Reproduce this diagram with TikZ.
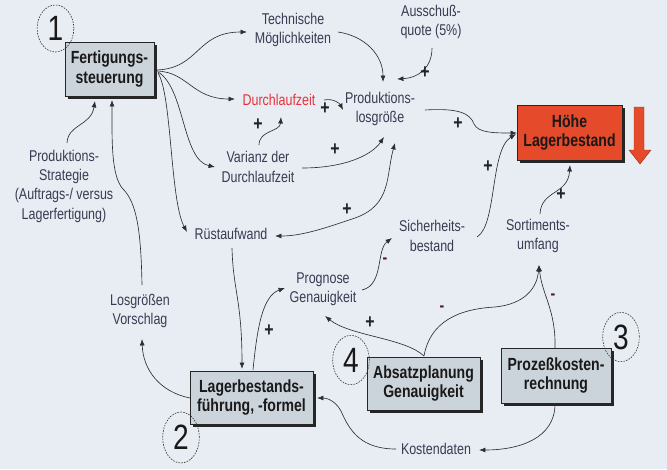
\documentclass[tikz,border=0pt]{standalone}
\usepackage{fontspec}
\setmainfont{Liberation Sans}[FakeStretch=0.8]
\usetikzlibrary{arrows.meta,shapes.geometric,shadows}
\definecolor{bgcol}{RGB}{232,237,243}
\definecolor{boxfill}{RGB}{204,212,219}
\definecolor{hotfill}{RGB}{229,74,43}
\definecolor{txtcol}{RGB}{58,58,82}
\definecolor{redtxt}{RGB}{232,48,58}
\definecolor{linecol}{RGB}{45,45,52}
\definecolor{pluscol}{RGB}{30,36,48}
\definecolor{minuscol}{RGB}{80,25,35}

\begin{document}
\begin{tikzpicture}[x=0.03cm,y=-0.03cm,
  lbl/.style={font=\fontsize{13.3}{16.5}\selectfont, text=txtcol, align=center, inner sep=2pt},
  box/.style={draw=black!85, line width=0.6pt, fill=boxfill, align=center, inner sep=0pt,
    font=\bfseries\fontsize{15}{17}\selectfont, text=black!90,
    general shadow={fill=black!85, shadow xshift=2.2pt, shadow yshift=-2.2pt}},
  num/.style={ellipse, draw=black!80, line width=0.5pt, dash pattern=on 1.4pt off 1pt,
    inner sep=0pt, minimum width=1.1cm, minimum height=1.48cm,
    font=\fontsize{30}{30}\selectfont, text=black!90},
  link/.style={draw=linecol, line width=0.55pt, -{Latex[length=5.5pt,width=4.2pt]}},
  plus/.style={font=\bfseries\fontsize{17}{17}\selectfont, text=pluscol, inner sep=0pt},
  minusmark/.style={font=\bfseries\fontsize{15}{15}\selectfont, text=minuscol, inner sep=0pt},
]
% canvas
\fill[bgcol] (0,0) rectangle (667,469);
\useasboundingbox (0,0) rectangle (667,469);

% main boxes
\node[box, minimum width=2.67cm, minimum height=1.62cm] (fert) at (109.5,69) {Fertigungs-\\steuerung};
\node[box, fill=hotfill, minimum width=3.15cm, minimum height=1.65cm] (hohe) at (569.5,132.5) {Höhe\\Lagerbestand};
\node[box, minimum width=3.69cm, minimum height=1.59cm] (lager) at (251.5,397.5) {Lagerbestands-\\führung, -formel};
\node[box, minimum width=3.39cm, minimum height=1.59cm] (absatz) at (423.5,383.5) {Absatzplanung\\Genauigkeit};
\node[box, minimum width=3.3cm, minimum height=1.65cm] (proz) at (556,375.5) {Prozeßkosten-\\rechnung};

% numbered markers
\node[num, minimum height=1.41cm] (c1) at (55.5,28.5) {1};
\node[num, minimum height=1.53cm] (c2) at (181,437.5) {2};
\node[num] (c3) at (621,337) {3};
\node[num] (c4) at (351,360) {4};

% falling stock arrow
\draw[fill=hotfill, draw=hotfill!70!black, line width=0.4pt]
  (634,107) -- (644,107) -- (644,150) -- (651,150) -- (640,164) -- (629,150) -- (634,150) -- cycle;

% labels
\node[lbl] (tech) at (293,30) {Technische\\Möglichkeiten};
\node[lbl] (aus) at (431,22) {Ausschuß-\\quote (5\%)};
\node[lbl, text=redtxt] (durch) at (279,100) {Durchlaufzeit};
\node[lbl] (prod) at (380,109) {Produktions-\\losgröße};
\node[lbl] (var) at (258,167) {Varianz der\\Durchlaufzeit};
\node[lbl] (rust) at (231,234) {Rüstaufwand};
\node[lbl] (sich) at (432,236) {Sicherheits-\\bestand};
\node[lbl] (sort) at (538,236) {Sortiments-\\umfang};
\node[lbl] (prog) at (323,289) {Prognose\\Genauigkeit};
\node[lbl] (strat) at (64,186) {Produktions-\\Strategie\\(Auftrags-/ versus\\Lagerfertigung)};
\node[lbl] (los) at (140,311) {Losgrößen\\Vorschlag};
\node[lbl] (kost) at (436,449) {Kostendaten};

% influence links
\draw[link] ([shift={(47.5,1)}]fert.center) .. controls (200,68) and (196,32) .. ([shift={(-46,2)}]tech.center);
\draw[link] ([shift={(47.5,2)}]fert.center) .. controls (188,72) and (192,99) .. ([shift={(-44,-1)}]durch.center);
\draw[link] ([shift={(48.5,3)}]fert.center) .. controls (185,88) and (182,160) .. ([shift={(-43,0)}]var.center);
\draw[link] ([shift={(48.5,4)}]fert.center) .. controls (172,95) and (170,200) .. ([shift={(-44,-2)}]rust.center);
\draw[link] ([shift={(45,2)}]tech.center) .. controls (365,36) and (383,55) .. ([shift={(3,-27)}]prod.center);
\draw[link] ([shift={(1,26)}]aus.center) .. controls (432,68) and (418,78) .. ([shift={(17,-30)}]prod.center);
\draw[link] ([shift={(45,0)}]durch.center) .. controls (334,98) and (340,104) .. ([shift={(-37,1)}]prod.center);
\draw[link] ([shift={(1,-22)}]var.center) .. controls (259,130) and (280,132) .. ([shift={(2,17)}]durch.center);
\draw[link] ([shift={(44,1)}]var.center) .. controls (345,168) and (372,155) .. ([shift={(4,28)}]prod.center);
\draw[link, {Latex[length=5.5pt,width=4.2pt]}-{Latex[length=5.5pt,width=4.2pt]}]
  ([shift={(15,34)}]prod.center) .. controls (386,175) and (392,205) .. (355,218)
  .. controls (320,230) and (300,236) .. ([shift={(44,2)}]rust.center);
\draw[link] ([shift={(45,1)}]prod.center) .. controls (458,108) and (470,113) .. (474,124)
  .. controls (478,133) and (495,133) .. ([shift={(-52.5,0.5)}]hohe.center);
\draw[link] ([shift={(45,1)}]sich.center) .. controls (497,225) and (490,150) .. ([shift={(-53.5,1.5)}]hohe.center);
\draw[link] ([shift={(2,-22)}]sort.center) .. controls (541,190) and (568,195) .. ([shift={(0.5,32.5)}]hohe.center);
\draw[link] ([shift={(1,14)}]rust.center) .. controls (233,290) and (242,300) .. ([shift={(-9.5,-28.5)}]lager.center);
\draw[link] ([shift={(1.5,-27.5)}]lager.center) .. controls (257,330) and (262,296) .. ([shift={(-38,-1)}]prog.center);
\draw[link] ([shift={(39,1)}]prog.center) .. controls (384,285) and (376,250) .. ([shift={(-40,2)}]sich.center);
\draw[link] ([shift={(0.5,-27.5)}]absatz.center) .. controls (405,338) and (350,336) .. ([shift={(2,27)}]prog.center);
\draw[link] ([shift={(0.5,-27.5)}]absatz.center) .. controls (430,322) and (458,309) .. (495,307)
  .. controls (525,304) and (537,288) .. ([shift={(1,29)}]sort.center);
\draw[link] ([shift={(-1,-27.5)}]proz.center) .. controls (556,310) and (542,295) .. ([shift={(1,29)}]sort.center);
\draw[link] ([shift={(-1,28.5)}]proz.center) .. controls (555,438) and (520,450) .. ([shift={(43,1)}]kost.center);
\draw[link] ([shift={(-40,0)}]kost.center) .. controls (362,449) and (350,432) .. (341,411)
  .. controls (335,400) and (326,398) .. ([shift={(65.5,0.5)}]lager.center);
\draw[link] ([shift={(-61.5,0.5)}]lager.center) .. controls (160,392) and (143,370) .. ([shift={(2,28)}]los.center);
\draw[link] ([shift={(2,-26)}]los.center) .. controls (141,232) and (137,203) .. (123,189)
  .. controls (111,176) and (112,140) .. ([shift={(2.5,31)}]fert.center);
\draw[link] ([shift={(3,-43)}]strat.center) .. controls (68,124) and (91,126) .. ([shift={(-14.5,32)}]fert.center);

% polarity marks
\node[plus] (p1) at (425,73) {+};
\node[plus] (p2) at (325,109) {+};
\node[plus] (p3) at (258,125) {+};
\node[plus] (p4) at (335,150) {+};
\node[plus] (p5) at (347,210) {+};
\node[plus] (p6) at (458,124) {+};
\node[plus] (p7) at (488,167) {+};
\node[plus] (p8) at (561,195) {+};
\node[plus] (p9) at (269,331) {+};
\node[plus] (p10) at (370,323) {+};
\node[minusmark] (m1) at (385,261) {-};
\node[minusmark] (m2) at (442,309) {-};
\node[minusmark] (m3) at (553,297) {-};
\end{tikzpicture}
\end{document}
